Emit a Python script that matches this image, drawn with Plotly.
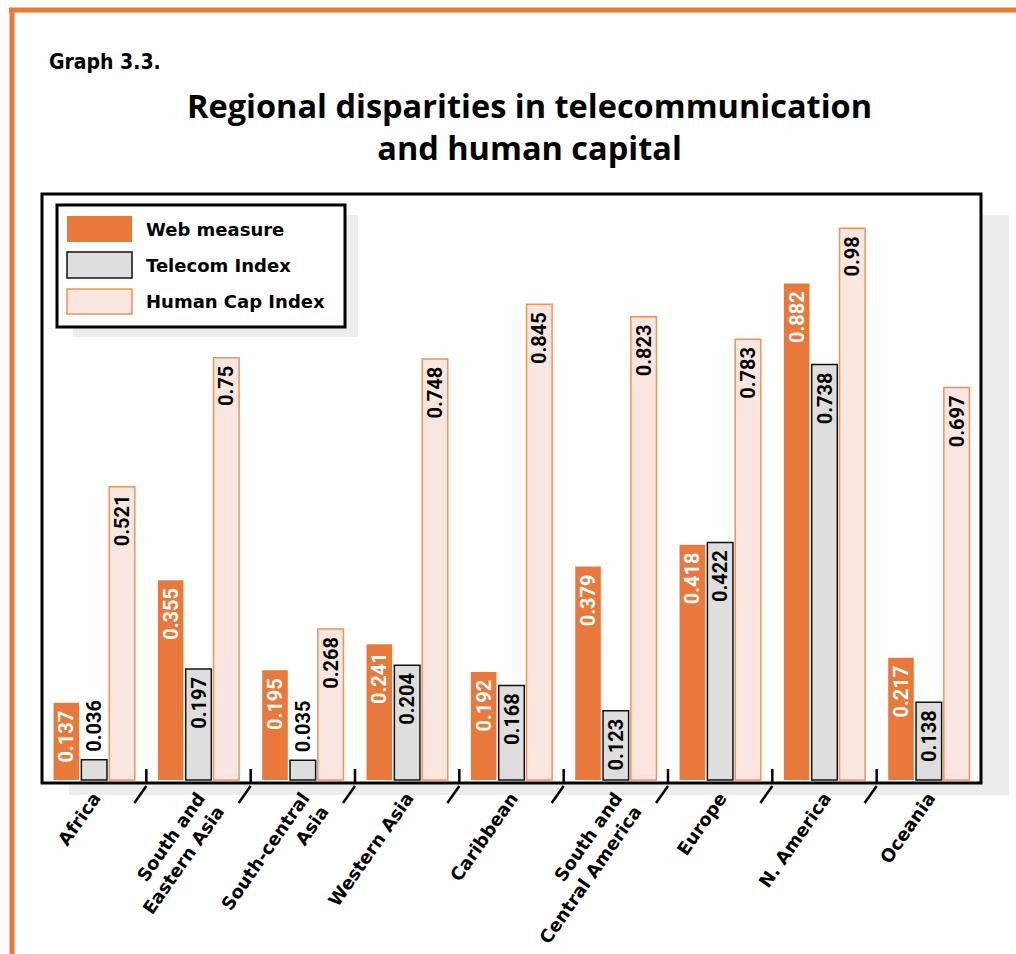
import plotly.graph_objects as go

# Regions and indicator values
regions = [
    "Africa",
    "South and<br>Eastern Asia",
    "South-central<br>Asia",
    "Western Asia",
    "Caribbean",
    "South and<br>Central America",
    "Europe",
    "N. America",
    "Oceania",
]
web_measure = [0.137, 0.355, 0.195, 0.241, 0.192, 0.379, 0.418, 0.882, 0.217]
telecom_index = [0.036, 0.197, 0.035, 0.204, 0.168, 0.123, 0.422, 0.738, 0.138]
human_cap_index = [0.521, 0.75, 0.268, 0.748, 0.845, 0.823, 0.783, 0.98, 0.697]
series_names = ["Web measure", "Telecom Index", "Human Cap Index"]

ORANGE = "#E8793A"
ORANGE_EDGE = "#F0925A"
GREY = "#DEDEDE"
PINK = "#F9E7DF"
SHADOW = "#EDEDED"

FIG_W, FIG_H = 1016, 954
# plot area in page pixels
L, R, T, B = 42, 981, 194, 783
W, H = R - L, B - T
scale = 563.0  # pixels per unit on the value axis


def px(x):
    return (x - L) / W


def py(y):
    return (B - y) / H


VAL_FONT = "Roboto"
VAL_SIZE = 20
LBL_FONT = "DejaVu Sans"
NBSP = "\u00a0"


def label_positions(vals):
    # put the value inside the bar unless the bar is too short for it
    return ["inside" if v * scale > 60 else "outside" for v in vals]


def label_templates(positions):
    # a non-breaking space keeps the number clear of the bar end
    return ["%{y}" + NBSP if p == "inside" else NBSP + "%{y}" for p in positions]


fig = go.Figure()

bar_styles = [
    (web_measure, ORANGE, ORANGE, 0, "white"),
    (telecom_index, GREY, "#111111", 1.5, "black"),
    (human_cap_index, PINK, ORANGE_EDGE, 1.5, "black"),
]
for name, (vals, fill, edge, lw, tcol) in zip(series_names, bar_styles):
    pos = label_positions(vals)
    fig.add_trace(go.Bar(
        x=regions,
        y=vals,
        name=name,
        marker=dict(color=fill, line=dict(color=edge, width=lw)),
        texttemplate=label_templates(pos),
        textposition=pos,
        textangle=-90,
        insidetextanchor="end",
        insidetextfont=dict(family=VAL_FONT, size=VAL_SIZE, color=tcol, weight="bold"),
        outsidetextfont=dict(family=VAL_FONT, size=VAL_SIZE, color="black", weight="bold"),
        constraintext="none",
        cliponaxis=False,
        showlegend=False,
        hoverinfo="skip",
    ))

shapes = []
# drop shadow and white plot panel
shapes.append(dict(type="rect", xref="paper", yref="paper",
                   x0=px(69), x1=px(1009), y0=py(795), y1=py(215),
                   fillcolor=SHADOW, line=dict(width=0), layer="below"))
shapes.append(dict(type="rect", xref="paper", yref="paper",
                   x0=0, x1=1, y0=0, y1=1,
                   fillcolor="white", line=dict(width=0), layer="below"))
# plot frame
shapes.append(dict(type="rect", xref="paper", yref="paper",
                   x0=0, x1=1, y0=0, y1=1,
                   line=dict(color="black", width=3), layer="above"))

# group separators: short tick inside plus slanted slash below the axis
for k in range(len(regions) - 1):
    b = k + 0.5
    shapes.append(dict(type="line", xref="x", yref="paper",
                       x0=b, x1=b, y0=py(769), y1=0,
                       line=dict(color="black", width=2.5)))
    shapes.append(dict(type="line", xref="x", xsizemode="pixel", xanchor=b,
                       x0=0, x1=-12, yref="paper", y0=py(786), y1=py(803),
                       line=dict(color="black", width=2.5)))

# page frame (orange)
shapes.append(dict(type="line", xref="paper", yref="paper",
                   x0=px(9), x1=px(1016), y0=py(10), y1=py(10),
                   line=dict(color=ORANGE, width=5)))
shapes.append(dict(type="line", xref="paper", yref="paper",
                   x0=px(12), x1=px(12), y0=py(8), y1=py(954),
                   line=dict(color=ORANGE, width=5)))

# legend box with shadow
shapes.append(dict(type="rect", xref="paper", yref="paper",
                   x0=px(73), x1=px(358), y0=py(337), y1=py(215),
                   fillcolor=SHADOW, line=dict(width=0)))
shapes.append(dict(type="rect", xref="paper", yref="paper",
                   x0=px(57), x1=px(345), y0=py(327), y1=py(205),
                   fillcolor="white", line=dict(color="black", width=3)))

annotations = []
legend_rows = [(216, 242), (252, 278), (289, 314)]
for name, (_, fill, edge, lw, _t), (y0, y1) in zip(series_names, bar_styles, legend_rows):
    shapes.append(dict(type="rect", xref="paper", yref="paper",
                       x0=px(67), x1=px(132), y0=py(y1), y1=py(y0),
                       fillcolor=fill,
                       line=dict(color=edge, width=lw if lw else 0)))
    annotations.append(dict(xref="paper", yref="paper",
                            x=px(144), y=py((y0 + y1) / 2),
                            xanchor="left", yanchor="middle", showarrow=False,
                            text=name,
                            font=dict(family=LBL_FONT, size=18, color="black", weight="bold")))

annotations.append(dict(xref="paper", yref="paper", x=px(47), y=py(62),
                        xanchor="left", yanchor="middle", showarrow=False,
                        text="Graph 3.3.",
                        font=dict(family="DejaVu Sans Condensed", size=21,
                                  color="black", weight="bold")))
annotations.append(dict(xref="paper", yref="paper", x=px(529), y=py(126),
                        xanchor="center", yanchor="middle", showarrow=False,
                        text="Regional disparities in telecommunication<br>and human capital",
                        align="center",
                        font=dict(family="Open Sans", size=32.5, color="black", weight="bold")))

y_lo = -(B - 780) / scale
y_hi = y_lo + H / scale

fig.update_layout(
    width=FIG_W, height=FIG_H, autosize=False,
    margin=dict(l=L, r=FIG_W - R, t=T, b=FIG_H - B, autoexpand=False),
    paper_bgcolor="white", plot_bgcolor="rgba(0,0,0,0)",
    barmode="group", bargap=0.2, bargroupgap=0.08,
    xaxis=dict(showgrid=False, showline=False, zeroline=False, ticks="",
               tickangle=-55, ticklabelstandoff=0,
               tickfont=dict(family=LBL_FONT, size=18, color="black", weight="bold"),
               fixedrange=True),
    yaxis=dict(range=[y_lo, y_hi], visible=False, showgrid=False,
               zeroline=False, fixedrange=True),
    shapes=shapes,
    annotations=annotations,
    showlegend=False,
)

fig.write_html("out.html")
